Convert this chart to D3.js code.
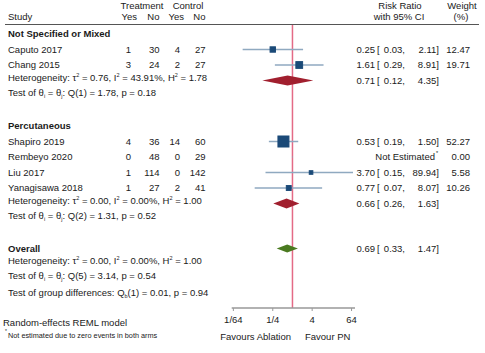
<!DOCTYPE html>
<html><head><meta charset="utf-8">
<script src="https://cdn.jsdelivr.net/npm/d3@7"></script>
<style>html,body{margin:0;padding:0;background:#fff;}svg text{font-family:"Liberation Sans",Arial,sans-serif;}</style>
</head><body><svg id="c" width="485" height="353"></svg>
<script>
// ---- data ----
const groups = ["Not Specified or Mixed", "Percutaneous"];
const studies = ["Caputo 2017","Chang 2015","Shapiro 2019","Rembeyo 2020","Liu 2017","Yanagisawa 2018"];
const treatYes = [1,3,4,0,1,1];
const treatNo = [30,24,36,48,114,27];
const ctrlYes = [4,2,14,0,0,2];
const ctrlNo = [27,27,60,29,142,41];
const rr = [0.25,1.61,0.53,null,3.70,0.77];
const rrLo = [0.03,0.29,0.19,null,0.15,0.07];
const rrHi = [2.11,8.91,1.50,null,89.94,8.07];
const weights = [12.47,19.71,52.27,0.00,5.58,10.26];
const subRR = [0.71,0.66], subLo = [0.12,0.26], subHi = [4.35,1.63];
const overallRR = [0.69,0.33,1.47];
const tau2 = ["0.76","0.00","0.00"], I2 = ["43.91","0.00","0.00"], H2 = ["1.78","1.00","1.00"];
const qDf = [1,2,5], qVal = ["1.78","1.31","3.14"], qP = ["0.18","0.52","0.54"];
const groupDiff = {df:1, q:"0.01", p:"0.94"};
const tickVals = [1/64, 1/4, 4, 64];
const tickLabels = ["1/64","1/4","4","64"];

// ---- layout ----
const svg = d3.select("#c");
const FS = 9.5, SFS = 5.5, txt = "#1a1a1a";
const x = d3.scaleLog().base(2).domain([Math.pow(2,-6.17), Math.pow(2,6.35)]).range([231.7,355]);
const sz = d3.scaleSqrt().domain([0,52.27]).range([0,11]);
const colYes=131, colNo=159.5, colCYes=180, colCNo=205.5;
const fmt = d3.format(".2f");

function t(xp, y, s, anchor, opts){
  const e = svg.append("text").attr("x",xp).attr("y",y).attr("dy","0.35em")
    .attr("font-size",FS).attr("fill",txt).attr("text-anchor",anchor||"start").text(s);
  if(opts&&opts.bold) e.attr("font-weight","bold");
  return e;
}
function runs(e, parts){
  let cur = 0;
  parts.forEach(([s,k])=>{
    const target = k===-1 ? -3.6 : (k===1 ? 2.2 : 0);
    const tp = e.append("tspan").attr("dy", target-cur).text(s);
    if(k!==0) tp.attr("font-size",SFS);
    cur = target;
  });
}

// header
t(142,6,"Treatment","middle");
t(188,6,"Control","middle");
t(8,17,"Study");
t(colYes+6,17,"Yes","end"); t(colNo,17,"No","end"); t(colCYes+4,17,"Yes","end"); t(colCNo,17,"No","end");
t(400,6,"Risk Ratio","middle"); t(399,17,"with 95% CI","middle");
t(462,6,"Weight","middle"); t(461,17,"(%)","middle");
svg.append("line").attr("x1",5).attr("x2",479).attr("y1",24.5).attr("y2",24.5).attr("stroke","#555").attr("stroke-width",1);

// rows
const groupTitleY = [34,126];
const studyY = [49.5,65,141.5,157,172.5,188];
const hetY = [80.5,203.5,263.5];
const testY = [96,219,279];
const overallY = 248.5, groupDiffY = 296;
const axisY = 308;

svg.append("line").attr("x1",x(1)).attr("x2",x(1)).attr("y1",25).attr("y2",axisY)
  .attr("stroke","#e46a86").attr("stroke-width",1.5);

groups.forEach((g,i)=>t(8,groupTitleY[i],g,"start",{bold:true}));

function rrText(y, est, lo, hi){
  t(375,y,fmt(est),"end");
  t(377,y,"[","start");
  t(405,y,fmt(lo)+",","end");
  t(439,y,fmt(hi)+"]","end");
}

studies.forEach((s,i)=>{
  const y = studyY[i];
  t(8,y,s);
  t(colYes,y,treatYes[i],"end"); t(colNo,y,treatNo[i],"end");
  t(colCYes,y,ctrlYes[i],"end"); t(colCNo,y,ctrlNo[i],"end");
  t(470,y,fmt(weights[i]),"end");
  if(rr[i]===null){
    t(435,y,"Not Estimated","end");
    svg.append("text").attr("x",436).attr("y",y-2.5).attr("font-size",SFS).attr("fill",txt).text("*");
    svg.append("rect").attr("x",x(1)-0.5).attr("y",y-0.5).attr("width",1).attr("height",1).attr("fill","#8aa0b4");
    return;
  }
  const x0 = x(rrLo[i]), x1 = Math.min(x(rrHi[i]), x.range()[1]-2);
  svg.append("line").attr("x1",x0).attr("x2",x1).attr("y1",y).attr("y2",y).attr("stroke","#8fa9c0").attr("stroke-width",1.5);
  const s2 = sz(weights[i]);
  svg.append("rect").attr("x",x(rr[i])-s2/2).attr("y",y-s2/2).attr("width",s2).attr("height",s2)
    .attr("fill","#1b4a78").attr("stroke","#1b4a78").attr("stroke-width",1);
  rrText(y, rr[i], rrLo[i], rrHi[i]);
});

function diamond(y, est, lo, hi, h, col){
  const p = [[x(lo),y],[x(est),y-h/2],[x(hi),y],[x(est),y+h/2]];
  svg.append("path").attr("d","M"+p.map(d=>d.join(",")).join("L")+"Z").attr("fill",col);
  rrText(y, est, lo, hi);
}
function hetLine(y,i){
  const e = t(8,y,"");
  runs(e, [["Heterogeneity: τ",0],["2",-1],[" = "+tau2[i]+", I",0],["2",-1],[" = "+I2[i]+"%, H",0],["2",-1],[" = "+H2[i],0]]);
}
function testLine(y,i){
  const e = t(8,y,"");
  runs(e, [["Test of θ",0],["i",1],[" = θ",0],["j",1],[": Q("+qDf[i]+") = "+qVal[i]+", p = "+qP[i],0]]);
}

[0,1].forEach(i=>{
  diamond(hetY[i], subRR[i], subLo[i], subHi[i], 10, "#a11f2e");
  hetLine(hetY[i], i);
  testLine(testY[i], i);
});

t(8,overallY,"Overall","start",{bold:true});
diamond(overallY, overallRR[0], overallRR[1], overallRR[2], 8, "#4a7a20");
hetLine(hetY[2],2);
testLine(testY[2],2);
{
  const e = t(8,groupDiffY,"");
  runs(e, [["Test of group differences: Q",0],["b",1],["("+groupDiff.df+") = "+groupDiff.q+", p = "+groupDiff.p,0]]);
}

// axis
const ax = svg.append("g").attr("transform","translate(0,"+axisY+")");
ax.append("line").attr("x1",x.range()[0]).attr("x2",x.range()[1]).attr("stroke","#999").attr("stroke-width",1.5);
tickVals.forEach((v,i)=>{
  ax.append("line").attr("x1",x(v)).attr("x2",x(v)).attr("y1",0).attr("y2",3).attr("stroke","#999").attr("stroke-width",1);
  ax.append("text").attr("x",x(v)).attr("y",12).attr("dy","0.35em").attr("text-anchor","middle")
    .attr("font-size",FS).attr("fill",txt).text(tickLabels[i]);
});
t(291,337,"Favours Ablation","end");
t(305,337,"Favour PN","start");

// notes
t(3,323,"Random-effects REML model");
svg.append("text").attr("x",5).attr("y",333).attr("font-size",5).attr("fill",txt).text("*");
svg.append("text").attr("x",8).attr("y",335.5).attr("dy","0.35em").attr("font-size",7.3).attr("fill",txt).text("Not estimated due to zero events in both arms");
</script></body></html>
